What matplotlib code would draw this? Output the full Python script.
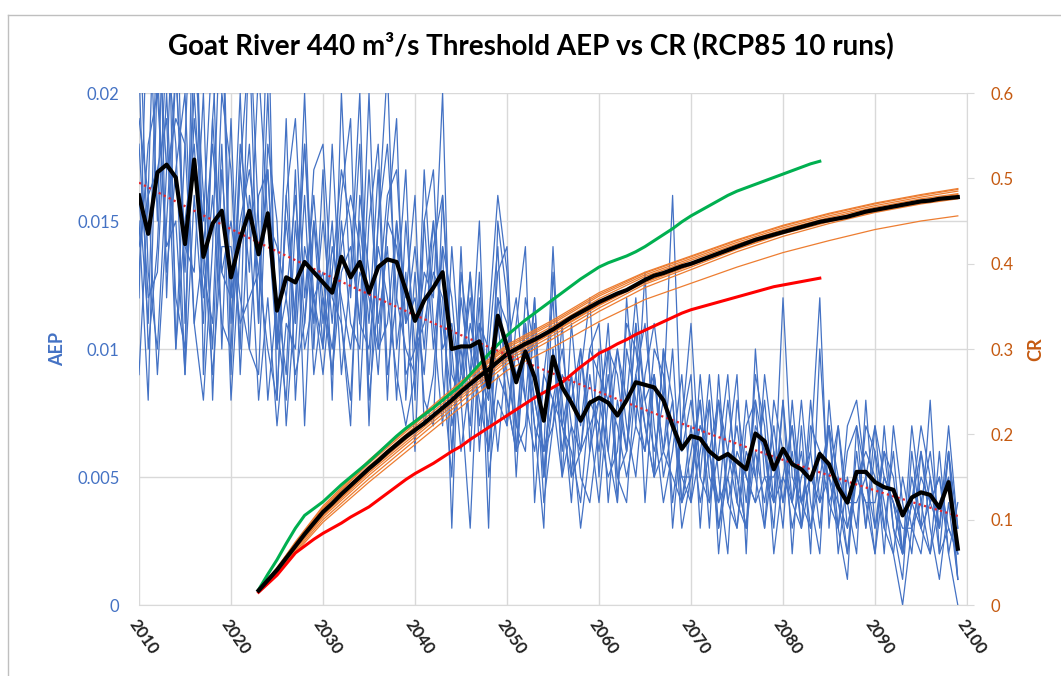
import matplotlib
matplotlib.use("Agg")
import matplotlib.pyplot as plt
from matplotlib.lines import Line2D
import numpy as np

plt.rcParams['font.family'] = ['Lato', 'DejaVu Sans']

years = list(range(2010, 2100))
cr_years = list(range(2023, 2100))
bound_years = list(range(2023, 2085))
orange_years = [2023, 2025, 2027, 2030, 2035, 2040, 2045, 2050, 2055, 2060,
                2065, 2070, 2075, 2080, 2085, 2090, 2095, 2099]

# AEP of the 10 runs, in units of 0.001
run1 = [12, 25, 15, 28, 10, 18, 27, 9, 19, 24,
        9, 17, 22, 11, 24, 8, 16, 11, 20, 10,
        17, 8, 20, 12, 18, 7, 15, 21, 10, 13,
        6, 15, 17, 9, 5, 14, 6, 12, 3, 15,
        12, 5, 11, 7, 3, 13, 8, 4, 9, 12,
        5, 10, 4, 12, 7, 13, 5, 10, 3, 7,
        9, 3, 8, 2, 6, 9, 2, 10, 5, 4,
        8, 2, 7, 2, 10, 4, 3, 1, 7, 5,
        2, 7, 3, 1, 6, 3, 8, 2, 6, 2]
run2 = [21, 10, 14, 22, 18, 9, 26, 13, 11, 20,
        17, 10, 23, 15, 8, 12, 9, 17, 7, 15,
        10, 18, 11, 7, 16, 13, 9, 15, 19, 8,
        13, 8, 7, 16, 10, 6, 9, 15, 5, 8,
        7, 11, 14, 4, 9, 12, 5, 7, 3, 6,
        10, 4, 8, 6, 11, 4, 9, 6, 8, 3,
        5, 8, 3, 9, 4, 3, 7, 8, 3, 6,
        4, 7, 3, 8, 4, 7, 2, 5, 3, 7,
        6, 2, 7, 4, 2, 6, 3, 1, 4, 1]
run3 = [9, 16, 28, 12, 21, 14, 13, 20, 8, 17,
        12, 20, 10, 9, 18, 15, 7, 12, 18, 11,
        15, 11, 16, 19, 8, 15, 18, 9, 12, 17,
        8, 17, 11, 7, 14, 9, 13, 6, 11, 16,
        13, 7, 6, 12, 5, 10, 6, 9, 5, 4,
        7, 11, 5, 4, 9, 11, 7, 4, 6, 9,
        4, 9, 5, 4, 8, 5, 3, 9, 7, 2,
        5, 4, 8, 4, 2, 8, 4, 2, 6, 3,
        7, 3, 2, 5, 3, 2, 5, 3, 7, 3]
run4 = [24, 13, 10, 17, 26, 11, 19, 15, 22, 10,
        19, 9, 16, 13, 10, 8, 16, 19, 12, 16,
        11, 15, 9, 13, 20, 8, 12, 16, 17, 11,
        14, 10, 15, 11, 8, 10, 7, 13, 6, 9,
        8, 6, 12, 10, 4, 7, 11, 5, 10, 7,
        4, 8, 10, 7, 5, 9, 11, 8, 16, 6,
        8, 5, 9, 5, 2, 8, 5, 4, 9, 6,
        3, 8, 4, 6, 12, 3, 7, 4, 2, 8,
        3, 6, 5, 2, 7, 4, 2, 6, 2, 4]
run5 = [15, 8, 21, 13, 17, 20, 11, 8, 14, 25,
        11, 17, 13, 21, 15, 10, 19, 8, 14, 12,
        13, 9, 15, 11, 10, 17, 11, 14, 8, 15,
        10, 13, 12, 20, 7, 9, 12, 7, 10, 6,
        10, 12, 8, 6, 9, 8, 5, 11, 7, 10,
        11, 6, 4, 10, 8, 6, 10, 9, 4, 7,
        11, 5, 4, 8, 6, 4, 8, 5, 3, 8,
        6, 4, 6, 3, 5, 7, 3, 7, 8, 5,
        3, 5, 4, 2, 4, 7, 5, 2, 3, 2]
run6 = [18, 12, 13, 20, 12, 10, 22, 16, 10, 18,
        8, 14, 18, 11, 20, 10, 12, 9, 11, 17,
        18, 12, 11, 8, 15, 11, 17, 8, 15, 12,
        16, 7, 9, 14, 12, 8, 3, 11, 8, 13,
        14, 6, 10, 8, 6, 14, 7, 6, 4, 8,
        7, 5, 6, 11, 10, 7, 5, 10, 8, 4,
        6, 8, 4, 6, 9, 4, 3, 7, 6, 3,
        8, 4, 3, 7, 6, 4, 5, 2, 5, 6,
        5, 3, 6, 2, 5, 3, 2, 4, 5, 1]
run7 = [13, 18, 20, 14, 15, 9, 16, 11, 19, 13,
        15, 12, 10, 16, 17, 11, 8, 15, 10, 12,
        9, 13, 17, 15, 11, 10, 14, 12, 9, 7,
        9, 15, 10, 14, 3, 13, 10, 8, 6, 11,
        8, 6, 7, 11, 5, 8, 10, 7, 6, 9,
        6, 9, 5, 6, 9, 7, 5, 6, 10, 4,
        7, 4, 6, 3, 5, 3, 6, 5, 8, 4,
        5, 7, 4, 3, 6, 5, 3, 6, 7, 3,
        6, 4, 2, 0, 3, 5, 4, 3, 6, 3]
run8 = [19, 16, 17, 19, 10, 15, 18, 12, 16, 11,
        10, 18, 15, 8, 12, 7, 11, 10, 16, 9,
        12, 10, 14, 16, 14, 9, 15, 18, 12, 10,
        9, 12, 15, 10, 11, 8, 13, 9, 7, 12,
        11, 9, 10, 7, 6, 8, 7, 5, 6, 10,
        9, 8, 7, 5, 7, 6, 9, 5, 7, 5,
        5, 7, 6, 8, 4, 6, 5, 4, 5, 5,
        6, 3, 5, 6, 3, 7, 5, 4, 4, 5,
        7, 5, 4, 3, 3, 4, 6, 3, 6, 1]
run9 = [16, 11, 23, 17, 19, 18, 11, 14, 9, 14,
        14, 11, 12, 13, 17, 10, 15, 11, 18, 12,
        10, 14, 12, 10, 13, 12, 10, 15, 14, 11,
        12, 9, 14, 16, 9, 8, 11, 9, 8, 12,
        9, 7, 11, 8, 6, 7, 9, 8, 10, 6,
        8, 10, 9, 6, 11, 8, 9, 6, 5, 4,
        5, 7, 6, 4, 5, 7, 4, 8, 6, 4,
        12, 5, 4, 5, 6, 5, 4, 3, 5, 4,
        4, 6, 3, 2, 4, 3, 4, 5, 3, 2]
run10 = [14, 16, 9, 15, 21, 13, 20, 14, 18, 13,
         12, 15, 17, 14, 15, 14, 12, 16, 11, 15,
         12, 9, 13, 14, 11, 20, 10, 11, 15, 9,
         10, 11, 13, 12, 6, 12, 9, 11, 10, 14,
         7, 10, 8, 12, 5, 10, 7, 9, 6, 7,
         8, 6, 10, 8, 12, 8, 6, 8, 7, 5,
         4, 6, 8, 3, 6, 5, 3, 6, 4, 7,
         4, 6, 3, 5, 4, 5, 7, 3, 5, 4,
         2, 5, 4, 2, 4, 6, 4, 5, 2, 0]

# mean AEP of the runs, in units of 0.001
aep_mean = [16.0, 14.5, 16.9, 17.2, 16.7, 14.1, 17.4, 13.6, 14.9, 15.4,
            12.8, 14.3, 15.4, 13.7, 15.3, 11.5, 12.8, 12.6, 13.4, 13.0,
            12.6, 12.2, 13.6, 12.8, 13.4, 12.2, 13.2, 13.5, 13.4, 12.3,
            11.1, 11.9, 12.4, 13.0, 10.0, 10.1, 10.1, 10.3, 8.5, 11.3,
            10.1, 8.7, 9.9, 8.9, 7.2, 9.7, 8.5, 7.9, 7.2, 7.9,
            8.1, 7.9, 7.4, 8.0, 8.7, 8.6, 8.5, 8.0, 7.0, 6.1,
            6.6, 6.5, 6.0, 5.7, 5.9, 5.6, 5.3, 6.7, 6.4, 5.3,
            6.1, 5.5, 5.3, 4.9, 5.9, 5.5, 4.6, 4.0, 5.2, 5.2,
            4.8, 4.6, 4.5, 3.5, 4.2, 4.4, 4.3, 3.8, 4.8, 2.2]

# CR of the 10 runs
cr1 = [0.016, 0.043, 0.074, 0.116, 0.170, 0.216, 0.262, 0.305, 0.334, 0.366, 0.390, 0.409, 0.428, 0.445, 0.459, 0.471, 0.481, 0.488]
cr2 = [0.017, 0.042, 0.071, 0.113, 0.166, 0.212, 0.258, 0.301, 0.330, 0.362, 0.387, 0.406, 0.425, 0.442, 0.456, 0.468, 0.478, 0.485]
cr3 = [0.018, 0.040, 0.068, 0.110, 0.163, 0.209, 0.254, 0.298, 0.327, 0.359, 0.385, 0.404, 0.423, 0.440, 0.454, 0.466, 0.476, 0.482]
cr4 = [0.016, 0.041, 0.070, 0.108, 0.158, 0.204, 0.249, 0.293, 0.322, 0.354, 0.381, 0.401, 0.421, 0.438, 0.452, 0.464, 0.474, 0.480]
cr5 = [0.017, 0.039, 0.066, 0.105, 0.155, 0.200, 0.245, 0.289, 0.319, 0.351, 0.378, 0.398, 0.418, 0.436, 0.450, 0.462, 0.472, 0.478]
cr6 = [0.015, 0.038, 0.065, 0.103, 0.152, 0.197, 0.242, 0.286, 0.316, 0.348, 0.376, 0.396, 0.417, 0.435, 0.449, 0.461, 0.471, 0.477]
cr7 = [0.016, 0.040, 0.067, 0.106, 0.157, 0.203, 0.248, 0.292, 0.320, 0.352, 0.379, 0.399, 0.420, 0.437, 0.451, 0.464, 0.474, 0.481]
cr8 = [0.017, 0.037, 0.063, 0.100, 0.148, 0.193, 0.238, 0.282, 0.312, 0.344, 0.372, 0.393, 0.414, 0.432, 0.447, 0.460, 0.470, 0.476]
cr9 = [0.018, 0.044, 0.073, 0.114, 0.168, 0.214, 0.260, 0.303, 0.332, 0.364, 0.389, 0.408, 0.427, 0.444, 0.458, 0.470, 0.480, 0.487]
cr10 = [0.016, 0.036, 0.061, 0.097, 0.144, 0.188, 0.232, 0.275, 0.302, 0.332, 0.358, 0.377, 0.396, 0.413, 0.427, 0.440, 0.450, 0.456]

cr_mean = [0.017, 0.029, 0.041, 0.055, 0.069, 0.083, 0.096, 0.109, 0.119, 0.130,
           0.140, 0.150, 0.160, 0.169, 0.179, 0.188, 0.197, 0.205, 0.213, 0.222,
           0.231, 0.240, 0.250, 0.259, 0.268, 0.276, 0.285, 0.294, 0.300, 0.306,
           0.311, 0.317, 0.323, 0.330, 0.337, 0.343, 0.349, 0.355, 0.360, 0.365,
           0.369, 0.375, 0.381, 0.386, 0.389, 0.393, 0.397, 0.400, 0.404, 0.408,
           0.412, 0.416, 0.420, 0.424, 0.428, 0.431, 0.434, 0.437, 0.440, 0.443,
           0.446, 0.449, 0.451, 0.453, 0.455, 0.458, 0.461, 0.463, 0.465, 0.467,
           0.469, 0.471, 0.473, 0.474, 0.476, 0.477, 0.478]

cr_upper = [0.018, 0.036, 0.053, 0.072, 0.090, 0.105, 0.113, 0.121, 0.131, 0.141,
            0.150, 0.159, 0.168, 0.178, 0.188, 0.198, 0.207, 0.215, 0.223, 0.231,
            0.240, 0.249, 0.258, 0.270, 0.282, 0.294, 0.305, 0.316, 0.325, 0.334,
            0.342, 0.350, 0.358, 0.366, 0.374, 0.382, 0.389, 0.396, 0.401, 0.405,
            0.409, 0.414, 0.420, 0.427, 0.434, 0.441, 0.449, 0.456, 0.462, 0.468,
            0.474, 0.480, 0.485, 0.489, 0.493, 0.497, 0.501, 0.505, 0.509, 0.513,
            0.517, 0.520]

cr_lower = [0.015, 0.025, 0.035, 0.048, 0.061, 0.069, 0.077, 0.084, 0.090, 0.096,
            0.103, 0.109, 0.115, 0.123, 0.131, 0.139, 0.147, 0.154, 0.160, 0.166,
            0.173, 0.180, 0.186, 0.194, 0.201, 0.208, 0.215, 0.222, 0.229, 0.236,
            0.243, 0.249, 0.255, 0.261, 0.270, 0.279, 0.287, 0.295, 0.300, 0.306,
            0.311, 0.317, 0.322, 0.327, 0.332, 0.337, 0.342, 0.346, 0.349, 0.352,
            0.355, 0.358, 0.361, 0.364, 0.367, 0.370, 0.373, 0.375, 0.377, 0.379,
            0.381, 0.383]

blue = '#4472C4'
orange = '#ED7D31'
grid_c = '#D9D9D9'

fig = plt.figure(figsize=(10.61, 6.76), dpi=100)
ax = fig.add_axes([139/1061, 71/676, 828/1061, 512/676])

runs = [run1, run2, run3, run4, run5, run6, run7, run8, run9, run10]
for r in runs:
    ax.plot(years, np.array(r) / 1000, color=blue, lw=0.9, zorder=2)

ax.set_xlim(2010, 2100)
ax.set_ylim(0, 0.02)
ax.set_xticks(range(2010, 2101, 10))
ax.set_yticks([0, 0.005, 0.01, 0.015, 0.02])
ax.set_yticklabels(['0', '0.005', '0.01', '0.015', '0.02'])
ax.grid(True, color=grid_c, lw=1)
ax.set_axisbelow(True)
ax.tick_params(axis='y', colors=blue, labelsize=12, length=0, pad=14)
ax.tick_params(axis='x', length=0, labelsize=12, pad=8)
for lab in ax.get_xticklabels():
    lab.set_rotation(-55)
    lab.set_ha('left')
    lab.set_va('top')
    lab.set_rotation_mode('anchor')
    lab.set_fontweight('bold')
    lab.set_color('#222222')
for s in ['top', 'right', 'left']:
    ax.spines[s].set_visible(False)
ax.spines['bottom'].set_color(grid_c)
ax.set_ylabel('AEP', color=blue, fontsize=13, fontweight='bold', labelpad=8)

ax2 = ax.twinx()
for c in [cr1, cr2, cr3, cr4, cr5, cr6, cr7, cr8, cr9, cr10]:
    ax2.plot(orange_years, c, color=orange, lw=0.9, zorder=3)
ax2.plot(bound_years, cr_upper, color='#00B050', lw=2.2, zorder=4)
ax2.plot(bound_years, cr_lower, color='#FF0000', lw=2.2, zorder=4)
ax2.plot(cr_years, cr_mean, color='black', lw=3, zorder=5)
ax2.set_ylim(0, 0.6)
ax2.set_yticks(np.arange(0, 0.61, 0.1))
ax2.set_yticklabels(['0', '0.1', '0.2', '0.3', '0.4', '0.5', '0.6'])
ax2.tick_params(axis='y', colors='#C55A11', labelsize=12, length=5, pad=12)
ax2.tick_params(axis='y', color=grid_c)
for s in ['top', 'left', 'bottom']:
    ax2.spines[s].set_visible(False)
ax2.spines['right'].set_color(grid_c)
ax2.set_ylabel('CR', color='#C55A11', fontsize=13, fontweight='bold', labelpad=10)

# third layer so the mean AEP sits above the CR lines
ax3 = ax.twinx()
ax3.set_ylim(0, 0.02)
ax3.axis('off')
aep = np.array(aep_mean) / 1000
yr = np.array(years)
# 2nd order polynomial trendline fitted to the mean AEP
coef = np.polyfit(yr - 2010, aep, 2)
ax3.plot(yr, np.polyval(coef, yr - 2010), color='#E8262B', lw=1.6, ls=(0, (1, 1.5)), zorder=6)
ax3.plot(years, aep, color='black', lw=3, zorder=7)

fig.text(0.5, 0.933, 'Goat River 440 m\u00b3/s Threshold AEP vs CR (RCP85 10 runs)',
         ha='center', va='center', fontsize=20, fontweight='bold')

# chart frame
fig.add_artist(Line2D([8/1061, 8/1061], [0, 1 - 15/676], color='#BFBFBF', lw=1))
fig.add_artist(Line2D([8/1061, 1], [1 - 15/676, 1 - 15/676], color='#BFBFBF', lw=1))

fig.savefig('out.png', dpi=100)
